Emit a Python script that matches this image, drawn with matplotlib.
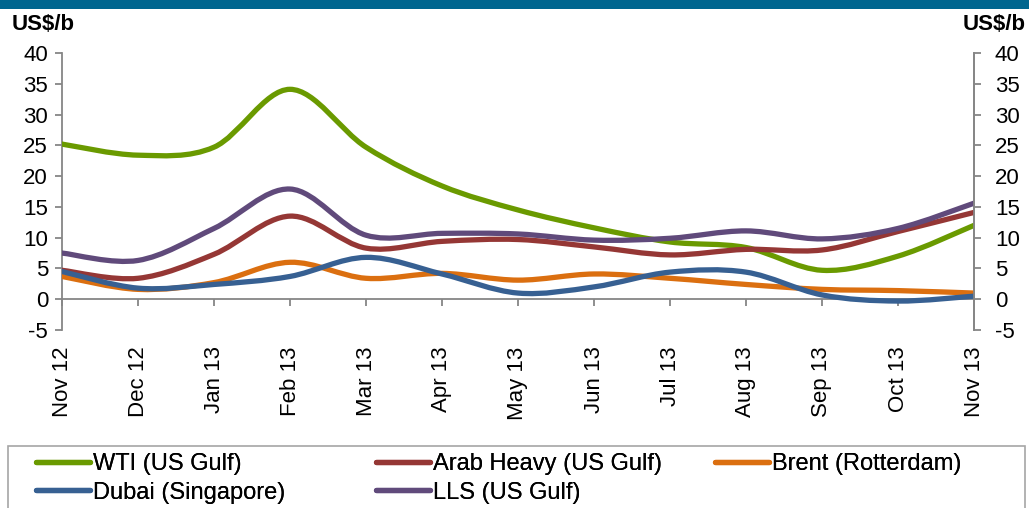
import numpy as np
import matplotlib
matplotlib.use("Agg")
import matplotlib.pyplot as plt
from matplotlib.path import Path
from matplotlib.patches import PathPatch, Rectangle
from matplotlib.lines import Line2D

plt.rcParams['font.family'] = ['Liberation Sans', 'DejaVu Sans']
plt.rcParams['axes.unicode_minus'] = False

months = ["Nov 12", "Dec 12", "Jan 13", "Feb 13", "Mar 13", "Apr 13", "May 13",
          "Jun 13", "Jul 13", "Aug 13", "Sep 13", "Oct 13", "Nov 13"]

wti = [25.2, 23.4, 24.7, 34.1, 24.7, 18.4, 14.5, 11.6, 9.3, 8.4, 4.7, 7.0, 12.0]
arab_heavy = [4.7, 3.4, 7.3, 13.5, 8.3, 9.4, 9.7, 8.5, 7.2, 8.1, 8.0, 11.0, 14.1]
brent = [3.7, 1.6, 2.7, 6.0, 3.4, 4.2, 3.1, 4.1, 3.4, 2.4, 1.6, 1.4, 1.0]
dubai = [4.5, 1.8, 2.4, 3.7, 6.8, 4.1, 1.0, 2.0, 4.4, 4.4, 0.7, -0.3, 0.5]
lls = [7.5, 6.3, 11.5, 17.9, 10.4, 10.7, 10.6, 9.6, 9.9, 11.1, 9.8, 11.5, 15.6]

series = [
    ("WTI (US Gulf)", wti, "#6a9a00"),
    ("Arab Heavy (US Gulf)", arab_heavy, "#953735"),
    ("Brent (Rotterdam)", brent, "#db6f10"),
    ("Dubai (Singapore)", dubai, "#376092"),
    ("LLS (US Gulf)", lls, "#604a7b"),
]

LW = 3.8
TICK_FS = 16
axis_col = "#868686"


def smooth_path(x, y):
    """Bezier path through the points, with Catmull-Rom style control points."""
    pts = np.column_stack([x, y]).astype(float)
    ext = np.vstack([pts[0], pts, pts[-1]])
    verts = [pts[0]]
    codes = [Path.MOVETO]
    for i in range(len(pts) - 1):
        p0, p1, p2, p3 = ext[i], ext[i + 1], ext[i + 2], ext[i + 3]
        c1 = p1 + (p2 - p0) / 6.0
        c2 = p2 - (p3 - p1) / 6.0
        verts += [c1, c2, p2]
        codes += [Path.CURVE4] * 3
    return Path(np.array(verts), codes)


fig = plt.figure(figsize=(10.29, 5.08), dpi=100)
ax = fig.add_axes([62 / 1029, 1 - 330 / 508, (974 - 62) / 1029, (330 - 53) / 508])

x = np.arange(len(months))
for name, vals, col in series:
    patch = PathPatch(smooth_path(x, vals), facecolor="none", edgecolor=col,
                      lw=LW, capstyle="round", joinstyle="round", zorder=3)
    ax.add_patch(patch)

ax.set_xlim(0, len(months) - 1)
ax.set_ylim(-5, 40)
ax.set_yticks(np.arange(-5, 41, 5))

ax.spines["top"].set_visible(False)
ax.spines["bottom"].set_position(("data", 0))
for s in ["left", "right", "bottom"]:
    ax.spines[s].set_color(axis_col)
    ax.spines[s].set_linewidth(1.3)

ax.set_xticks(x)
ax.set_xticklabels(months, rotation=90, fontsize=TICK_FS)
ax.tick_params(axis="x", direction="out", length=5, width=1.3, color=axis_col, pad=29)
ax.tick_params(axis="y", direction="out", length=5, width=1.3, color=axis_col,
               labelsize=TICK_FS, pad=5, right=False)

axr = ax.twinx()
axr.set_ylim(ax.get_ylim())
axr.set_yticks(np.arange(-5, 41, 5))
for s in ["top", "bottom", "left"]:
    axr.spines[s].set_visible(False)
axr.spines["right"].set_color(axis_col)
axr.spines["right"].set_linewidth(1.3)
axr.tick_params(axis="y", direction="out", length=5, width=1.3, color=axis_col,
                labelsize=TICK_FS, pad=10)

fig.text(12 / 1029, 1 - 25 / 508, "US$/b", fontsize=16, fontweight="bold",
         ha="left", va="center")
fig.text(1026 / 1029, 1 - 25 / 508, "US$/b", fontsize=16, fontweight="bold",
         ha="right", va="center")

# header band
fig.patches.append(Rectangle((0, 1 - 9 / 508), 1, 9 / 508, transform=fig.transFigure,
                             facecolor="#00668f", edgecolor="none"))

# legend frame
fig.patches.append(Rectangle((8 / 1029, -0.05), (1025 - 8) / 1029, 1 - 446 / 508 + 0.05,
                             transform=fig.transFigure, facecolor="white",
                             edgecolor="#a6a6a6", lw=1.2))

handles = {name: Line2D([], [], color=col, lw=LW, solid_capstyle="round")
           for name, _, col in series}
columns = [
    (36, ["WTI (US Gulf)", "Dubai (Singapore)"]),
    (376, ["Arab Heavy (US Gulf)", "LLS (US Gulf)"]),
    (715, ["Brent (Rotterdam)"]),
]
for xpx, names in columns:
    leg = fig.legend([handles[n] for n in names], names, loc="upper left",
                     bbox_to_anchor=(xpx / 1029, 1 - 453 / 508), frameon=False,
                     fontsize=17, handlelength=2.3, handletextpad=0.13,
                     borderpad=0, borderaxespad=0, labelspacing=0.28)
    fig.add_artist(leg)

fig.savefig("out.png", dpi=100)
